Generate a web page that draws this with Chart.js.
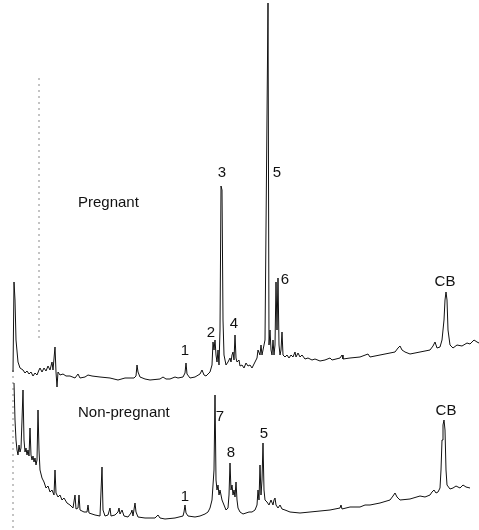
<!DOCTYPE html>
<html lang="en">
<head>
  <meta charset="UTF-8">
  <title>Chromatogram - Pregnant vs Non-pregnant</title>
  <script src="https://cdn.jsdelivr.net/npm/chart.js"></script>
  <style>
    body {
      margin: 0;
      background: #fff;
    }
    .wrap {
      width: 479px;
      height: 530px;
      position: relative;
    }
  </style>
</head>
<body>

<div class="wrap">
  <canvas id="chromChart"></canvas>
</div>

<script>
// retention time (arbitrary min) and detector response for each trace
const pregTime = [1.3,1.4,1.5,1.6,1.8,2.0,2.3,2.5,2.7,2.9,3.1,3.3,3.5,3.7,3.9,4.0,4.2,4.4,4.6,4.8,5.0,5.2,5.3,5.5,5.6,5.7,5.8,6.0,6.3,6.6,7.0,7.5,7.8,8.0,8.5,8.8,9.2,10.0,11.0,11.8,12.5,13.4,13.6,13.7,13.8,14.0,14.5,15.0,16.0,16.3,16.6,17.0,17.5,17.8,18.3,18.5,18.6,18.7,19.0,19.5,20.0,20.2,20.4,20.6,21.0,21.2,21.3,21.4,21.5,21.6,21.7,21.8,21.9,22.0,22.1,22.2,22.3,22.4,22.6,22.8,23.0,23.1,23.2,23.3,23.4,23.5,23.6,23.7,23.9,24.0,24.2,24.4,24.6,24.8,25.0,25.2,25.5,25.7,25.8,26.0,26.1,26.2,26.4,26.5,26.8,26.9,27.0,27.1,27.2,27.3,27.4,27.5,27.6,27.7,27.8,27.9,28.0,28.1,28.2,28.3,28.5,28.7,28.9,29.1,29.3,29.5,29.6,29.8,30.0,30.2,30.5,30.8,31.2,31.5,32.0,32.5,33.0,33.2,34.0,34.2,34.3,35.0,36.0,36.8,37.0,38.0,39.0,39.5,39.8,40.0,40.2,40.5,41.0,42.0,43.0,43.3,43.5,43.7,44.0,44.2,44.4,44.5,44.6,44.7,44.8,45.0,45.3,45.7,46.2,46.7,47.0,47.4,47.7,47.9];
const pregSignal = [158,248,230,190,168,162,160,157,159,156,158,154,157,155,160,162,158,162,159,164,160,168,160,183,158,143,158,155,156,154,154,152,156,152,153,155,154,153,152,150,152,152,154,165,158,153,151,150,151,153,151,151,153,152,153,157,167,156,152,153,156,160,155,154,158,165,188,180,190,175,168,180,165,200,344,340,210,175,165,168,172,168,175,178,170,195,172,168,170,164,165,162,167,164,165,162,168,172,180,175,185,175,185,190,527,185,200,180,175,190,175,185,248,200,252,185,175,180,198,175,173,175,172,175,173,178,173,177,173,175,171,172,170,171,169,170,172,170,172,175,171,172,173,176,173,175,177,178,182,184,180,178,176,178,180,184,188,182,183,190,210,230,238,230,200,185,182,185,184,187,186,190,188,187];

const nonpregTime = [1.4,1.5,1.6,1.7,1.8,1.9,2.0,2.1,2.2,2.3,2.4,2.5,2.6,2.7,2.8,2.9,3.0,3.1,3.2,3.3,3.4,3.5,3.6,3.7,3.8,3.9,4.0,4.2,4.4,4.6,4.8,5.0,5.2,5.4,5.5,5.6,5.8,6.0,6.2,6.4,6.7,7.0,7.3,7.5,7.6,7.8,7.9,8.0,8.4,8.7,8.8,8.9,9.5,10.0,10.2,10.3,10.5,10.8,11.0,11.1,11.5,11.8,11.9,12.0,12.2,12.4,12.8,13.1,13.2,13.3,13.5,13.6,13.8,14.5,15.5,15.8,16.0,16.5,17.5,18.3,18.4,18.5,18.6,18.8,19.5,20.0,20.5,20.8,21.0,21.2,21.3,21.4,21.5,21.6,21.7,21.8,21.9,22.0,22.2,22.4,22.6,22.8,22.9,23.0,23.1,23.2,23.3,23.4,23.5,23.6,23.7,23.8,24.0,24.3,24.6,24.9,25.2,25.5,25.7,25.8,25.9,26.0,26.1,26.2,26.3,26.4,26.5,26.7,26.9,27.1,27.3,27.4,27.5,27.6,27.8,28.0,28.2,28.5,29.0,30.0,31.0,32.0,33.0,34.0,34.1,34.2,35.0,36.0,36.5,37.0,38.0,39.0,39.3,39.5,39.7,40.0,41.0,42.0,42.5,43.0,43.2,43.4,43.6,43.8,44.0,44.1,44.2,44.3,44.4,44.5,44.6,44.7,45.0,45.3,45.6,46.0,46.3,46.6,47.0];
const nonpregSignal = [147,110,90,80,75,85,78,82,110,140,90,78,82,75,80,74,102,75,70,74,68,72,65,70,120,80,60,52,48,42,44,38,40,35,60,37,33,35,30,32,27,25,22,35,21,22,35,20,18,18,25,17,15,14,63,20,14,15,22,14,15,18,22,16,20,14,13,17,20,14,27,18,13,12,12,15,12,11,12,14,18,25,17,14,13,14,16,18,22,30,45,60,135,50,40,45,35,40,30,25,20,22,35,67,40,45,35,40,33,48,30,22,18,16,17,18,18,20,25,40,30,65,35,50,87,40,30,28,25,30,25,30,32,25,22,25,21,20,18,17,18,19,20,22,25,21,23,23,25,25,27,30,34,37,33,30,31,34,33,35,38,40,37,38,42,60,90,105,110,100,60,45,41,42,44,42,45,43,42];

// dotted injection / start marks
const markTime = [3.9, 1.3];
const markTop = [452, 160];
const markBottom = [190, 0];

// peak labels
const labelText = ['Pregnant', '3', '5', '6', '4', '2', '1', 'CB', 'Non-pregnant', '7', '8', '5', '1', 'CB'];
const labelTime = [7.8, 22.2, 27.7, 28.5, 23.4, 21.1, 18.5, 44.5, 7.8, 22.0, 23.1, 26.4, 18.5, 44.6];
const labelSignal = [323, 357, 357, 250, 206, 197, 179, 248, 113, 113, 77, 96, 33, 119];

function toPoints(xs, ys) {
  return xs.map((x, i) => ({ x: x, y: ys[i] }));
}

const labelPlugin = {
  id: 'peakLabels',
  afterDatasetsDraw(chart) {
    const ctx = chart.ctx;
    const xs = chart.scales.x, ys = chart.scales.y;
    ctx.save();
    ctx.fillStyle = '#111';
    ctx.font = '15px "Liberation Sans", Arial, sans-serif';
    labelText.forEach((t, i) => {
      const px = xs.getPixelForValue(labelTime[i]);
      const py = ys.getPixelForValue(labelSignal[i]);
      if (t.length > 2) {
        ctx.textAlign = 'left';
        ctx.textBaseline = 'alphabetic';
      } else {
        ctx.textAlign = 'center';
        ctx.textBaseline = 'middle';
      }
      ctx.fillText(t, px, py);
    });
    ctx.restore();
  }
};

const traceStyle = {
  borderColor: '#111',
  borderWidth: 1,
  pointRadius: 0,
  tension: 0,
  fill: false
};

const datasets = [
  Object.assign({ label: 'Pregnant', data: toPoints(pregTime, pregSignal) }, traceStyle),
  Object.assign({ label: 'Non-pregnant', data: toPoints(nonpregTime, nonpregSignal) }, traceStyle)
];

markTime.forEach((t, i) => {
  datasets.push({
    label: 'mark' + i,
    data: [{ x: t, y: markTop[i] }, { x: t, y: markBottom[i] }],
    borderColor: '#888',
    borderWidth: 1,
    borderDash: [2, 4],
    pointRadius: 0
  });
});

new Chart(document.getElementById('chromChart'), {
  type: 'line',
  data: { datasets: datasets },
  options: {
    responsive: true,
    maintainAspectRatio: false,
    animation: false,
    layout: { padding: 0 },
    plugins: {
      legend: { display: false },
      tooltip: { enabled: false }
    },
    scales: {
      x: { type: 'linear', min: 0, max: 47.9, display: false },
      y: { min: 0, max: 530, display: false }
    }
  },
  plugins: [labelPlugin]
});
</script>

</body>
</html>
